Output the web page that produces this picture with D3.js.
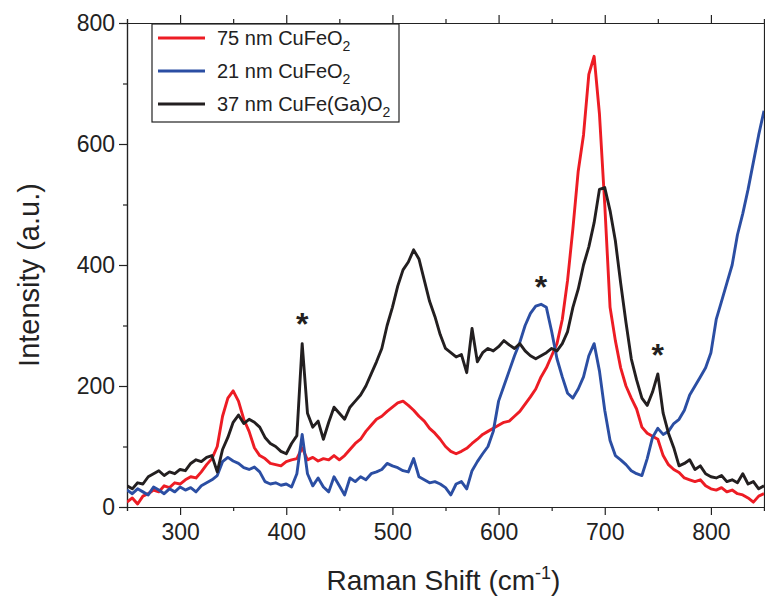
<!DOCTYPE html>
<html>
<head>
<meta charset="utf-8">
<script src="https://cdn.jsdelivr.net/npm/d3@7"></script>
<style>
  body { margin: 0; background: #fff; }
  svg { display: block; font-family: "Liberation Sans", Arial, sans-serif; }
</style>
</head>
<body>
<svg id="chart" width="765" height="601"></svg>
<script>
// Raman shift (cm-1), one sample every 5 cm-1
var shift = [250,255,260,265,270,275,280,285,290,295,300,305,310,315,320,325,330,335,340,345,
    350,355,360,365,370,375,380,385,390,395,400,405,410,415,420,425,430,435,440,445,
    450,455,460,465,470,475,480,485,490,495,500,505,510,515,520,525,530,535,540,545,
    550,555,560,565,570,575,580,585,590,595,600,605,610,615,620,625,630,635,640,645,
    650,655,660,665,670,675,680,685,690,695,700,705,710,715,720,725,730,735,740,745,
    750,755,760,765,770,775,780,785,790,795,800,805,810,815,820,825,830,835,840,845,850];

var red75 = [8,15,5,18,22,28,25,35,32,40,38,45,50,48,58,70,80,100,150,180,
    192,175,145,125,98,85,80,72,70,68,75,78,80,98,78,82,76,80,78,85,
    78,85,95,105,112,125,135,145,150,158,165,172,175,168,160,150,142,130,122,112,
    100,92,88,92,97,105,112,120,125,130,135,140,142,150,158,170,182,195,215,230,
    250,270,310,375,460,555,615,715,745,650,500,330,275,230,200,180,162,132,122,117,
    112,85,70,62,57,48,45,42,45,35,30,28,32,25,28,22,20,15,8,18,22];

var blue21 = [28,22,30,25,20,33,28,22,30,25,33,28,32,25,35,40,45,52,75,82,
    76,72,65,62,66,58,42,38,40,36,38,33,55,120,55,35,48,33,25,50,
    35,20,48,42,50,45,55,58,62,72,68,65,60,58,80,50,45,40,42,38,
    32,20,38,42,30,60,75,88,100,125,175,200,225,250,272,300,320,332,335,330,
    290,245,215,188,180,195,215,250,270,225,160,110,85,78,70,60,55,52,80,115,
    130,120,125,138,145,160,185,200,215,230,255,310,340,370,400,450,485,525,570,615,655];

var black37 = [35,30,40,38,50,55,60,52,58,55,62,60,72,78,75,82,85,58,95,115,
    140,152,138,145,140,132,115,105,100,92,88,105,118,270,155,132,142,112,140,165,
    155,145,165,175,185,200,220,240,262,300,330,365,392,405,425,410,375,340,315,285,
    262,255,248,252,222,295,240,255,262,258,265,275,268,262,270,258,250,245,250,255,
    262,258,270,290,330,360,400,430,470,525,528,490,440,370,305,245,210,180,168,190,
    220,155,122,98,68,72,78,62,68,55,50,48,52,42,45,40,55,38,42,30,35];

var seriesNames = ["75 nm CuFeO", "21 nm CuFeO", "37 nm CuFe(Ga)O"];
var seriesColors = ["#ed1c24", "#2b4ea3", "#231f20"];

// peaks marked with an asterisk: [shift, intensity]
var starMarks = [[415, 314], [640, 375], [750, 263]];

var xTicks = [300, 400, 500, 600, 700, 800];
var xMinor = [250, 350, 450, 550, 650, 750, 850];
var yTicks = [0, 200, 400, 600, 800];
var yMinor = [100, 300, 500, 700];

var svg = d3.select("#chart"),
    margin = {top: 23, right: 1, bottom: 94, left: 127},
    width = +svg.attr("width") - margin.left - margin.right,
    height = +svg.attr("height") - margin.top - margin.bottom;

var x = d3.scaleLinear().domain([250, 850]).range([0, width]);
var y = d3.scaleLinear().domain([0, 800]).range([height, 0]);

var g = svg.append("g")
    .attr("transform", "translate(" + margin.left + "," + margin.top + ")");

g.append("clipPath").attr("id", "plot-clip")
    .append("rect").attr("width", width).attr("height", height);

function styleAxis(sel)
{
    sel.select(".domain").attr("stroke", "#222").attr("stroke-width", 1.2);
    sel.selectAll(".tick line").attr("stroke", "#222").attr("stroke-width", 1.2);
    sel.selectAll(".tick text")
        .attr("fill", "#222")
        .style("font-size", "23px");
}

// bottom
g.append("g").attr("transform", "translate(0," + height + ")")
    .call(d3.axisBottom(x).tickValues(xMinor).tickSize(4).tickFormat(""))
    .call(styleAxis);
g.append("g").attr("transform", "translate(0," + height + ")")
    .call(d3.axisBottom(x).tickValues(xTicks).tickSize(8).tickSizeOuter(0).tickPadding(9))
    .call(styleAxis);

// top
g.append("g")
    .call(d3.axisTop(x).tickValues(xMinor).tickSize(4).tickFormat(""))
    .call(styleAxis);
g.append("g")
    .call(d3.axisTop(x).tickValues(xTicks).tickSize(8).tickSizeOuter(0).tickFormat(""))
    .call(styleAxis);

// left
g.append("g")
    .call(d3.axisLeft(y).tickValues(yMinor).tickSize(4).tickFormat(""))
    .call(styleAxis);
g.append("g")
    .call(d3.axisLeft(y).tickValues(yTicks).tickSize(8).tickSizeOuter(0).tickPadding(4))
    .call(styleAxis);

// right
g.append("g").attr("transform", "translate(" + width + ",0)")
    .call(d3.axisRight(y).tickValues(yTicks).tickSize(8).tickSizeOuter(0).tickFormat(""))
    .call(styleAxis);

var line = d3.line()
    .x(function(d, i) { return x(shift[i]); })
    .y(function(d) { return y(d); });

var series = [red75, blue21, black37];

g.append("g")
    .attr("clip-path", "url(#plot-clip)")
    .selectAll("path")
    .data(series)
    .enter().append("path")
    .attr("d", line)
    .attr("fill", "none")
    .attr("stroke", function(d, i) { return seriesColors[i]; })
    .attr("stroke-width", 2.9)
    .attr("stroke-linejoin", "round");

g.selectAll(".star")
    .data(starMarks)
    .enter().append("text")
    .attr("class", "star")
    .attr("x", function(d) { return x(d[0]); })
    .attr("y", function(d) { return y(d[1]) + 18; })
    .attr("text-anchor", "middle")
    .style("font-size", "32px")
    .style("font-weight", "bold")
    .attr("fill", "#231f20")
    .text("*");

// legend
var legend = g.append("g").attr("transform", "translate(25,1)");
legend.append("rect")
    .attr("width", 247).attr("height", 98)
    .attr("fill", "#fff").attr("stroke", "#222").attr("stroke-width", 1.2);

var item = legend.selectAll(".item")
    .data(seriesNames)
    .enter().append("g")
    .attr("class", "item")
    .attr("transform", function(d, i) { return "translate(0," + (14 + i * 33) + ")"; });

item.append("line")
    .attr("x1", 6).attr("x2", 53)
    .attr("stroke", function(d, i) { return seriesColors[i]; })
    .attr("stroke-width", 2.9);

var label = item.append("text")
    .attr("x", 65).attr("y", 7)
    .attr("fill", "#222")
    .style("font-size", "20px")
    .text(function(d) { return d; });
label.append("tspan")
    .attr("dy", 6)
    .style("font-size", "14px")
    .text("2");

// axis titles
svg.append("text")
    .attr("x", margin.left + width / 2 - 2)
    .attr("y", 590)
    .attr("text-anchor", "middle")
    .attr("fill", "#222")
    .style("font-size", "28px")
    .text("Raman Shift (cm")
    .call(function(t) {
        t.append("tspan").attr("dy", -11).style("font-size", "18px").text("-1");
        t.append("tspan").attr("dy", 11).text(")");
    });

svg.append("text")
    .attr("transform", "translate(39," + (margin.top + height / 2 + 10) + ") rotate(-90)")
    .attr("text-anchor", "middle")
    .attr("fill", "#222")
    .style("font-size", "29px")
    .text("Intensity (a.u.)");
</script>
</body>
</html>
